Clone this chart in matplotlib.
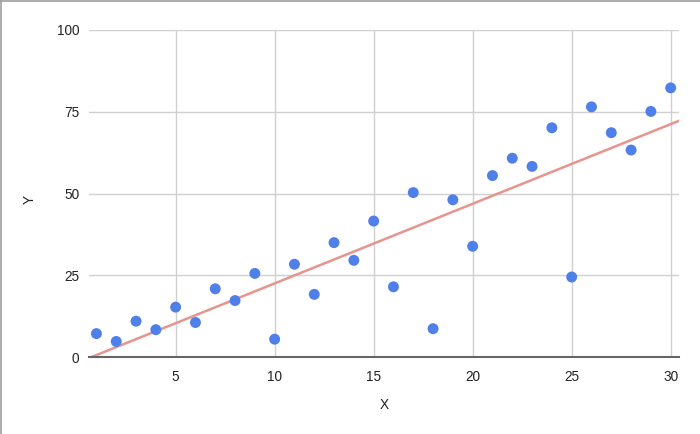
import matplotlib.pyplot as plt
import numpy as np
from matplotlib.lines import Line2D

plt.rcParams['font.family'] = ['Liberation Sans', 'DejaVu Sans']

x = list(range(1, 31))
y = [7.2, 4.8, 11.0, 8.4, 15.3, 10.6, 20.9, 17.3, 25.6, 5.5,
     28.4, 19.2, 35.0, 29.6, 41.6, 21.5, 50.3, 8.7, 48.1, 33.9,
     55.5, 60.8, 58.3, 70.1, 24.5, 76.5, 68.6, 63.3, 75.1, 82.3]
x_ticks = [5, 10, 15, 20, 25, 30]
y_ticks = [0, 25, 50, 75, 100]

fig = plt.figure(figsize=(7, 4.34), dpi=100)
ax = fig.add_axes([0.127, 0.177, 0.843, 0.754])

# frame only on left and top edges, like the screenshot
fig.add_artist(Line2D([0.002, 0.002], [0, 1], color='#9e9e9e', lw=1.2))
fig.add_artist(Line2D([0, 1], [0.997, 0.997], color='#9e9e9e', lw=1.2))

xmin, xmax = 0.62, 30.42

# trendline from least squares fit
slope, icpt = np.polyfit(x, y, 1)
xs = np.array([xmin, xmax])
ax.plot(xs, slope * xs + icpt, color='#e8948e', lw=1.8, zorder=2)

ax.scatter(x, y, s=62, color='#4f7fe8', edgecolors='none', zorder=3)

ax.set_xlim(xmin, xmax)
ax.set_ylim(0, 100)
ax.set_xticks(x_ticks)
ax.set_yticks(y_ticks)
ax.grid(True, color='#d0d0d0', lw=1)
ax.set_axisbelow(True)
for s in ['top', 'right', 'left']:
    ax.spines[s].set_visible(False)
ax.spines['bottom'].set_color('#666666')
ax.spines['bottom'].set_linewidth(1.5)
ax.spines['bottom'].set_zorder(4)
ax.tick_params(length=0, labelsize=9.8, colors='#222222')
ax.tick_params(axis='x', pad=9)
ax.tick_params(axis='y', pad=7)

fig.text(384 / 700, 1 - 405 / 434, 'X', fontsize=9.8, color='#222222',
         ha='center', va='center')
fig.text(30 / 700, 1 - 200 / 434, 'Y', fontsize=9.8, color='#222222',
         ha='center', va='center', rotation=90)

fig.savefig('out.png', dpi=100)
